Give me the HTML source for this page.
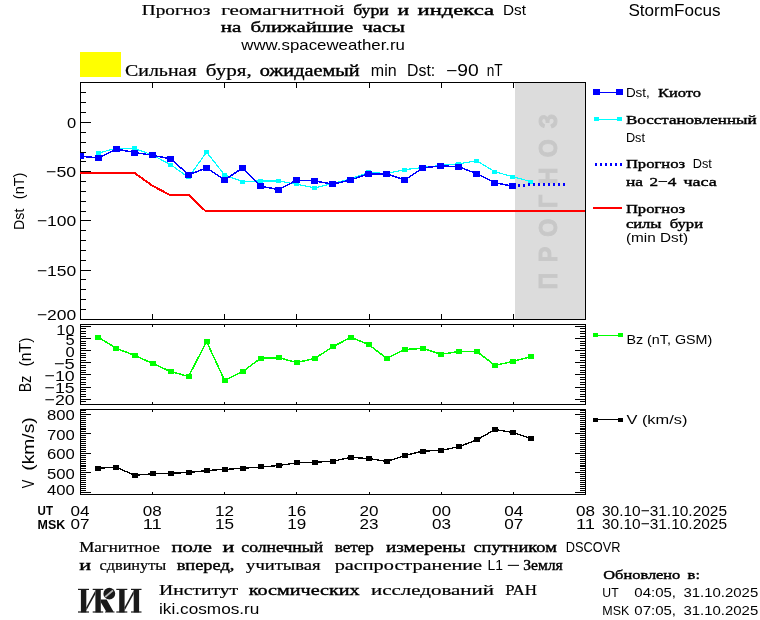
<!DOCTYPE html>
<html><head><meta charset="utf-8"><title>StormFocus</title>
<style>html,body{margin:0;padding:0;background:#fff;overflow:hidden}svg{display:block;position:absolute;left:0;top:0;will-change:transform}.s{font-family:"Liberation Sans",sans-serif;fill:#000}.c{font-family:"Liberation Serif",serif;fill:#000}.s.b{font-weight:bold}.c.b{stroke:#000;stroke-width:0.4px}.c.m{stroke:#000;stroke-width:0.22px}</style></head><body>
<svg width="760" height="620" viewBox="0 0 760 620">
<rect x="0" y="0" width="760" height="620" fill="#ffffff"/>
<text x="141.8" y="14.5" class="c m" font-size="15.2" textLength="68.5" lengthAdjust="spacingAndGlyphs" >Прогноз</text>
<text x="221.3" y="14.5" class="c m" font-size="15.2" textLength="123.3" lengthAdjust="spacingAndGlyphs" >геомагнитной</text>
<text x="353.2" y="14.5" class="c b" font-size="15.2" textLength="35.6" lengthAdjust="spacingAndGlyphs" >бури</text>
<text x="397.4" y="14.5" class="c b" font-size="15.2" textLength="11.6" lengthAdjust="spacingAndGlyphs" >и</text>
<text x="417.6" y="14.5" class="c b" font-size="15.2" textLength="76.6" lengthAdjust="spacingAndGlyphs" >индекса</text>
<text x="503.0" y="14.5" class="s" font-size="14.6" textLength="23.0" lengthAdjust="spacingAndGlyphs" >Dst</text>
<text x="220.8" y="32.3" class="c b" font-size="15.2" textLength="20.5" lengthAdjust="spacingAndGlyphs" >на</text>
<text x="250.5" y="32.3" class="c b" font-size="15.2" textLength="102.7" lengthAdjust="spacingAndGlyphs" >ближайшие</text>
<text x="362.4" y="32.3" class="c b" font-size="15.2" textLength="42.6" lengthAdjust="spacingAndGlyphs" >часы</text>
<text x="241.3" y="49.7" class="s" font-size="14.6" textLength="163.7" lengthAdjust="spacingAndGlyphs" >www.spaceweather.ru</text>
<text x="628.4" y="15.8" class="s" font-size="16.2" textLength="92.1" lengthAdjust="spacingAndGlyphs" >StormFocus</text>
<rect x="80" y="52" width="41" height="25" fill="#ffff00" shape-rendering="crispEdges"/>
<text x="125.0" y="76.0" class="c m" font-size="16.6" textLength="71.6" lengthAdjust="spacingAndGlyphs" >Сильная</text>
<text x="205.8" y="76.0" class="c m" font-size="16.6" textLength="46.0" lengthAdjust="spacingAndGlyphs" >буря,</text>
<text x="259.7" y="76.0" class="c b" font-size="16.6" textLength="100.0" lengthAdjust="spacingAndGlyphs" >ожидаемый</text>
<text x="370.8" y="76.4" class="s" font-size="16" textLength="25.8" lengthAdjust="spacingAndGlyphs" >min</text>
<text x="407.0" y="76.4" class="s" font-size="16" textLength="28.2" lengthAdjust="spacingAndGlyphs" >Dst:</text>
<text x="446.0" y="76.4" class="s" font-size="16" textLength="32.7" lengthAdjust="spacingAndGlyphs" >−90</text>
<text x="486.8" y="76.4" class="s" font-size="16" textLength="15.9" lengthAdjust="spacingAndGlyphs" >nT</text>
<g shape-rendering="crispEdges">
<rect x="515" y="83" width="70" height="236" fill="#dcdcdc"/>
</g>
<text transform="translate(557.2,289.5) rotate(-90) scale(0.88,1)" x="0" y="0" class="s b" font-size="26.5" textLength="199.5" lengthAdjust="spacing" style="fill:#c8c8c8;stroke:#c8c8c8;stroke-width:0.9px">ПРОГНОЗ</text>
<g shape-rendering="crispEdges" stroke="#000" stroke-width="1" fill="none">
<rect x="80.5" y="82.5" width="505" height="237"/>
<line x1="81" y1="309.5" x2="86" y2="309.5"/>
<line x1="81" y1="299.5" x2="86" y2="299.5"/>
<line x1="81" y1="289.5" x2="86" y2="289.5"/>
<line x1="81" y1="279.5" x2="86" y2="279.5"/>
<line x1="81" y1="270.5" x2="91" y2="270.5"/>
<line x1="81" y1="260.5" x2="86" y2="260.5"/>
<line x1="81" y1="250.5" x2="86" y2="250.5"/>
<line x1="81" y1="240.5" x2="86" y2="240.5"/>
<line x1="81" y1="230.5" x2="86" y2="230.5"/>
<line x1="81" y1="220.5" x2="91" y2="220.5"/>
<line x1="81" y1="211.5" x2="86" y2="211.5"/>
<line x1="81" y1="201.5" x2="86" y2="201.5"/>
<line x1="81" y1="191.5" x2="86" y2="191.5"/>
<line x1="81" y1="181.5" x2="86" y2="181.5"/>
<line x1="81" y1="171.5" x2="91" y2="171.5"/>
<line x1="81" y1="161.5" x2="86" y2="161.5"/>
<line x1="81" y1="152.5" x2="86" y2="152.5"/>
<line x1="81" y1="142.5" x2="86" y2="142.5"/>
<line x1="81" y1="132.5" x2="86" y2="132.5"/>
<line x1="81" y1="122.5" x2="91" y2="122.5"/>
<line x1="81" y1="112.5" x2="86" y2="112.5"/>
<line x1="81" y1="102.5" x2="86" y2="102.5"/>
<line x1="81" y1="92.5" x2="86" y2="92.5"/>
<line x1="152.5" y1="83" x2="152.5" y2="88"/>
<line x1="152.5" y1="314" x2="152.5" y2="319"/>
<line x1="224.5" y1="83" x2="224.5" y2="88"/>
<line x1="224.5" y1="314" x2="224.5" y2="319"/>
<line x1="296.5" y1="83" x2="296.5" y2="88"/>
<line x1="296.5" y1="314" x2="296.5" y2="319"/>
<line x1="369.5" y1="83" x2="369.5" y2="88"/>
<line x1="369.5" y1="314" x2="369.5" y2="319"/>
<line x1="441.5" y1="83" x2="441.5" y2="88"/>
<line x1="441.5" y1="314" x2="441.5" y2="319"/>
<line x1="513.5" y1="83" x2="513.5" y2="88"/>
<line x1="513.5" y1="314" x2="513.5" y2="319"/>
</g>
<defs><clipPath id="c1"><rect x="80" y="82" width="506" height="238"/></clipPath></defs>
<polyline points="80,173 134.6,173 151.8,185.3 169.7,195 188.7,195 205.5,211 585,211" fill="none" stroke="#ff0000" stroke-width="2" shape-rendering="crispEdges"/>
<g clip-path="url(#c1)">
<polyline points="98.5,153.2 116.5,148.0 134.5,148.5 152.5,155.0 170.6,164.7 188.6,177.4 206.6,152.1 224.6,175.0 242.6,181.6 260.6,180.9 278.7,180.9 296.7,184.3 314.7,187.9 332.7,183.5 350.8,178.8 368.8,172.4 386.8,173.5 404.8,169.6 422.8,167.5 440.8,165.4 458.9,163.7 476.9,160.9 494.9,171.7 512.9,176.8 531.0,181.6" fill="none" stroke="#00ffff" stroke-width="1.2" stroke-linejoin="round" shape-rendering="crispEdges"/>
<g fill="#00ffff" shape-rendering="crispEdges">
<rect x="96" y="151" width="5" height="4"/>
<rect x="114" y="146" width="5" height="4"/>
<rect x="132" y="146" width="5" height="4"/>
<rect x="150" y="153" width="5" height="4"/>
<rect x="168" y="163" width="5" height="4"/>
<rect x="186" y="175" width="5" height="4"/>
<rect x="204" y="150" width="5" height="4"/>
<rect x="222" y="173" width="5" height="4"/>
<rect x="240" y="180" width="5" height="4"/>
<rect x="258" y="179" width="5" height="4"/>
<rect x="276" y="179" width="5" height="4"/>
<rect x="294" y="182" width="5" height="4"/>
<rect x="312" y="186" width="5" height="4"/>
<rect x="330" y="182" width="5" height="4"/>
<rect x="348" y="177" width="5" height="4"/>
<rect x="366" y="170" width="5" height="4"/>
<rect x="384" y="172" width="5" height="4"/>
<rect x="402" y="168" width="5" height="4"/>
<rect x="420" y="166" width="5" height="4"/>
<rect x="438" y="163" width="5" height="4"/>
<rect x="456" y="162" width="5" height="4"/>
<rect x="474" y="159" width="5" height="4"/>
<rect x="492" y="170" width="5" height="4"/>
<rect x="510" y="175" width="5" height="4"/>
<rect x="528" y="180" width="5" height="4"/>
</g></g>
<g clip-path="url(#c1)">
<polyline points="80.5,156.3 98.5,157.8 116.5,149.0 134.5,152.5 152.5,155.3 170.6,158.8 188.6,174.8 206.6,167.9 224.6,179.9 242.6,167.9 260.6,186.2 278.7,189.6 296.7,180.1 314.7,180.9 332.7,184.1 350.8,179.9 368.8,173.8 386.8,173.8 404.8,180.1 422.8,167.9 440.8,165.8 458.9,166.8 476.9,173.8 494.9,182.6 512.9,186.4" fill="none" stroke="#0000ff" stroke-width="1.5" stroke-linejoin="round" shape-rendering="crispEdges"/>
<g fill="#0000ff" shape-rendering="crispEdges">
<rect x="77" y="153" width="7" height="6"/>
<rect x="95" y="155" width="7" height="6"/>
<rect x="113" y="146" width="7" height="6"/>
<rect x="131" y="150" width="7" height="6"/>
<rect x="149" y="152" width="7" height="6"/>
<rect x="167" y="156" width="7" height="6"/>
<rect x="185" y="172" width="7" height="6"/>
<rect x="203" y="165" width="7" height="6"/>
<rect x="221" y="177" width="7" height="6"/>
<rect x="239" y="165" width="7" height="6"/>
<rect x="257" y="183" width="7" height="6"/>
<rect x="275" y="187" width="7" height="6"/>
<rect x="293" y="177" width="7" height="6"/>
<rect x="311" y="178" width="7" height="6"/>
<rect x="329" y="181" width="7" height="6"/>
<rect x="347" y="177" width="7" height="6"/>
<rect x="365" y="171" width="7" height="6"/>
<rect x="383" y="171" width="7" height="6"/>
<rect x="401" y="177" width="7" height="6"/>
<rect x="419" y="165" width="7" height="6"/>
<rect x="437" y="163" width="7" height="6"/>
<rect x="455" y="164" width="7" height="6"/>
<rect x="473" y="171" width="7" height="6"/>
<rect x="491" y="180" width="7" height="6"/>
<rect x="509" y="183" width="7" height="6"/>
</g></g>
<polyline points="517.9,185.6 531.0,184.5 566,184.5" fill="none" stroke="#0000ff" stroke-width="3" stroke-dasharray="2 3" shape-rendering="crispEdges"/>
<text x="67.0" y="127.9" class="s" font-size="15.2" textLength="9.2" lengthAdjust="spacingAndGlyphs">0</text>
<text x="46.1" y="176.9" class="s" font-size="15.2" textLength="30.1" lengthAdjust="spacingAndGlyphs">−50</text>
<text x="36.9" y="226.1" class="s" font-size="15.2" textLength="39.4" lengthAdjust="spacingAndGlyphs">−100</text>
<text x="36.9" y="275.7" class="s" font-size="15.2" textLength="39.4" lengthAdjust="spacingAndGlyphs">−150</text>
<text x="36.9" y="320.1" class="s" font-size="15.2" textLength="39.4" lengthAdjust="spacingAndGlyphs">−200</text>
<text transform="translate(24,230) rotate(-90)" class="s" font-size="14.9" textLength="21.4" lengthAdjust="spacingAndGlyphs">Dst</text>
<text transform="translate(24,199.2) rotate(-90)" class="s" font-size="14.9" textLength="26.6" lengthAdjust="spacingAndGlyphs">(nT)</text>
<text transform="translate(31.2,392.2) rotate(-90)" class="s" font-size="16.6" textLength="16.6" lengthAdjust="spacingAndGlyphs">Bz</text>
<text transform="translate(31.2,366.6) rotate(-90)" class="s" font-size="16.6" textLength="29" lengthAdjust="spacingAndGlyphs">(nT)</text>
<text transform="translate(34,488.2) rotate(-90)" class="s" font-size="16.6" textLength="8.6" lengthAdjust="spacingAndGlyphs">V</text>
<text transform="translate(34,470.8) rotate(-90)" class="s" font-size="16.6" textLength="53.6" lengthAdjust="spacingAndGlyphs">(km/s)</text>
<g shape-rendering="crispEdges" stroke="#000" stroke-width="1" fill="none">
<rect x="80.5" y="324.5" width="505" height="80"/>
<line x1="81" y1="401.5" x2="86" y2="401.5"/>
<line x1="580" y1="401.5" x2="585" y2="401.5"/>
<line x1="81" y1="399.5" x2="91" y2="399.5"/>
<line x1="575" y1="399.5" x2="585" y2="399.5"/>
<line x1="81" y1="396.5" x2="86" y2="396.5"/>
<line x1="580" y1="396.5" x2="585" y2="396.5"/>
<line x1="81" y1="394.5" x2="86" y2="394.5"/>
<line x1="580" y1="394.5" x2="585" y2="394.5"/>
<line x1="81" y1="391.5" x2="86" y2="391.5"/>
<line x1="580" y1="391.5" x2="585" y2="391.5"/>
<line x1="81" y1="389.5" x2="86" y2="389.5"/>
<line x1="580" y1="389.5" x2="585" y2="389.5"/>
<line x1="81" y1="387.5" x2="91" y2="387.5"/>
<line x1="575" y1="387.5" x2="585" y2="387.5"/>
<line x1="81" y1="384.5" x2="86" y2="384.5"/>
<line x1="580" y1="384.5" x2="585" y2="384.5"/>
<line x1="81" y1="382.5" x2="86" y2="382.5"/>
<line x1="580" y1="382.5" x2="585" y2="382.5"/>
<line x1="81" y1="379.5" x2="86" y2="379.5"/>
<line x1="580" y1="379.5" x2="585" y2="379.5"/>
<line x1="81" y1="377.5" x2="86" y2="377.5"/>
<line x1="580" y1="377.5" x2="585" y2="377.5"/>
<line x1="81" y1="374.5" x2="91" y2="374.5"/>
<line x1="575" y1="374.5" x2="585" y2="374.5"/>
<line x1="81" y1="372.5" x2="86" y2="372.5"/>
<line x1="580" y1="372.5" x2="585" y2="372.5"/>
<line x1="81" y1="370.5" x2="86" y2="370.5"/>
<line x1="580" y1="370.5" x2="585" y2="370.5"/>
<line x1="81" y1="367.5" x2="86" y2="367.5"/>
<line x1="580" y1="367.5" x2="585" y2="367.5"/>
<line x1="81" y1="365.5" x2="86" y2="365.5"/>
<line x1="580" y1="365.5" x2="585" y2="365.5"/>
<line x1="81" y1="362.5" x2="91" y2="362.5"/>
<line x1="575" y1="362.5" x2="585" y2="362.5"/>
<line x1="81" y1="360.5" x2="86" y2="360.5"/>
<line x1="580" y1="360.5" x2="585" y2="360.5"/>
<line x1="81" y1="357.5" x2="86" y2="357.5"/>
<line x1="580" y1="357.5" x2="585" y2="357.5"/>
<line x1="81" y1="355.5" x2="86" y2="355.5"/>
<line x1="580" y1="355.5" x2="585" y2="355.5"/>
<line x1="81" y1="353.5" x2="86" y2="353.5"/>
<line x1="580" y1="353.5" x2="585" y2="353.5"/>
<line x1="81" y1="350.5" x2="91" y2="350.5"/>
<line x1="575" y1="350.5" x2="585" y2="350.5"/>
<line x1="81" y1="348.5" x2="86" y2="348.5"/>
<line x1="580" y1="348.5" x2="585" y2="348.5"/>
<line x1="81" y1="345.5" x2="86" y2="345.5"/>
<line x1="580" y1="345.5" x2="585" y2="345.5"/>
<line x1="81" y1="343.5" x2="86" y2="343.5"/>
<line x1="580" y1="343.5" x2="585" y2="343.5"/>
<line x1="81" y1="341.5" x2="86" y2="341.5"/>
<line x1="580" y1="341.5" x2="585" y2="341.5"/>
<line x1="81" y1="338.5" x2="91" y2="338.5"/>
<line x1="575" y1="338.5" x2="585" y2="338.5"/>
<line x1="81" y1="336.5" x2="86" y2="336.5"/>
<line x1="580" y1="336.5" x2="585" y2="336.5"/>
<line x1="81" y1="333.5" x2="86" y2="333.5"/>
<line x1="580" y1="333.5" x2="585" y2="333.5"/>
<line x1="81" y1="331.5" x2="86" y2="331.5"/>
<line x1="580" y1="331.5" x2="585" y2="331.5"/>
<line x1="81" y1="328.5" x2="86" y2="328.5"/>
<line x1="580" y1="328.5" x2="585" y2="328.5"/>
<line x1="81" y1="326.5" x2="91" y2="326.5"/>
<line x1="575" y1="326.5" x2="585" y2="326.5"/>
<line x1="152.5" y1="325" x2="152.5" y2="327"/>
<line x1="152.5" y1="402" x2="152.5" y2="404"/>
<line x1="224.5" y1="325" x2="224.5" y2="327"/>
<line x1="224.5" y1="402" x2="224.5" y2="404"/>
<line x1="296.5" y1="325" x2="296.5" y2="327"/>
<line x1="296.5" y1="402" x2="296.5" y2="404"/>
<line x1="369.5" y1="325" x2="369.5" y2="327"/>
<line x1="369.5" y1="402" x2="369.5" y2="404"/>
<line x1="441.5" y1="325" x2="441.5" y2="327"/>
<line x1="441.5" y1="402" x2="441.5" y2="404"/>
<line x1="513.5" y1="325" x2="513.5" y2="327"/>
<line x1="513.5" y1="402" x2="513.5" y2="404"/>
</g>
<g>
<polyline points="98.5,337.5 116.5,348.4 134.5,355.4 152.5,363.4 170.6,371.6 188.6,376.4 206.6,341.5 224.6,380.4 242.6,371.6 260.6,358.3 278.7,357.7 296.7,362.5 314.7,358.5 332.7,346.9 350.8,337.3 368.8,344.6 386.8,358.5 404.8,349.5 422.8,348.4 440.8,354.3 458.9,351.6 476.9,351.6 494.9,365.3 512.9,361.5 531.0,356.6" fill="none" stroke="#00ff00" stroke-width="1.5" stroke-linejoin="round" shape-rendering="crispEdges"/>
<g fill="#00ff00" shape-rendering="crispEdges">
<rect x="95" y="335" width="6" height="5"/>
<rect x="113" y="346" width="6" height="5"/>
<rect x="132" y="353" width="6" height="5"/>
<rect x="150" y="361" width="6" height="5"/>
<rect x="168" y="369" width="6" height="5"/>
<rect x="186" y="374" width="6" height="5"/>
<rect x="204" y="339" width="6" height="5"/>
<rect x="222" y="378" width="6" height="5"/>
<rect x="240" y="369" width="6" height="5"/>
<rect x="258" y="356" width="6" height="5"/>
<rect x="276" y="355" width="6" height="5"/>
<rect x="294" y="360" width="6" height="5"/>
<rect x="312" y="356" width="6" height="5"/>
<rect x="330" y="344" width="6" height="5"/>
<rect x="348" y="335" width="6" height="5"/>
<rect x="366" y="342" width="6" height="5"/>
<rect x="384" y="356" width="6" height="5"/>
<rect x="402" y="347" width="6" height="5"/>
<rect x="420" y="346" width="6" height="5"/>
<rect x="438" y="352" width="6" height="5"/>
<rect x="456" y="349" width="6" height="5"/>
<rect x="474" y="349" width="6" height="5"/>
<rect x="492" y="363" width="6" height="5"/>
<rect x="510" y="359" width="6" height="5"/>
<rect x="528" y="354" width="6" height="5"/>
</g></g>
<text x="56.2" y="334.7" class="s" font-size="15.2" textLength="18.5" lengthAdjust="spacingAndGlyphs">10</text>
<text x="65.5" y="344.7" class="s" font-size="15.2" textLength="9.2" lengthAdjust="spacingAndGlyphs">5</text>
<text x="65.5" y="356.8" class="s" font-size="15.2" textLength="9.2" lengthAdjust="spacingAndGlyphs">0</text>
<text x="53.9" y="368.9" class="s" font-size="15.2" textLength="20.9" lengthAdjust="spacingAndGlyphs">−5</text>
<text x="44.6" y="381.0" class="s" font-size="15.2" textLength="30.1" lengthAdjust="spacingAndGlyphs">−10</text>
<text x="44.6" y="393.1" class="s" font-size="15.2" textLength="30.1" lengthAdjust="spacingAndGlyphs">−15</text>
<text x="44.6" y="405.2" class="s" font-size="15.2" textLength="30.1" lengthAdjust="spacingAndGlyphs">−20</text>
<g shape-rendering="crispEdges" stroke="#000" stroke-width="1" fill="none">
<rect x="80.5" y="409.5" width="505" height="85"/>
<line x1="81" y1="492.5" x2="91" y2="492.5"/>
<line x1="575" y1="492.5" x2="585" y2="492.5"/>
<line x1="81" y1="490.5" x2="86" y2="490.5"/>
<line x1="580" y1="490.5" x2="585" y2="490.5"/>
<line x1="81" y1="488.5" x2="86" y2="488.5"/>
<line x1="580" y1="488.5" x2="585" y2="488.5"/>
<line x1="81" y1="486.5" x2="86" y2="486.5"/>
<line x1="580" y1="486.5" x2="585" y2="486.5"/>
<line x1="81" y1="484.5" x2="86" y2="484.5"/>
<line x1="580" y1="484.5" x2="585" y2="484.5"/>
<line x1="81" y1="482.5" x2="86" y2="482.5"/>
<line x1="580" y1="482.5" x2="585" y2="482.5"/>
<line x1="81" y1="480.5" x2="86" y2="480.5"/>
<line x1="580" y1="480.5" x2="585" y2="480.5"/>
<line x1="81" y1="478.5" x2="86" y2="478.5"/>
<line x1="580" y1="478.5" x2="585" y2="478.5"/>
<line x1="81" y1="476.5" x2="86" y2="476.5"/>
<line x1="580" y1="476.5" x2="585" y2="476.5"/>
<line x1="81" y1="474.5" x2="86" y2="474.5"/>
<line x1="580" y1="474.5" x2="585" y2="474.5"/>
<line x1="81" y1="472.5" x2="91" y2="472.5"/>
<line x1="575" y1="472.5" x2="585" y2="472.5"/>
<line x1="81" y1="470.5" x2="86" y2="470.5"/>
<line x1="580" y1="470.5" x2="585" y2="470.5"/>
<line x1="81" y1="468.5" x2="86" y2="468.5"/>
<line x1="580" y1="468.5" x2="585" y2="468.5"/>
<line x1="81" y1="466.5" x2="86" y2="466.5"/>
<line x1="580" y1="466.5" x2="585" y2="466.5"/>
<line x1="81" y1="465.5" x2="86" y2="465.5"/>
<line x1="580" y1="465.5" x2="585" y2="465.5"/>
<line x1="81" y1="463.5" x2="86" y2="463.5"/>
<line x1="580" y1="463.5" x2="585" y2="463.5"/>
<line x1="81" y1="461.5" x2="86" y2="461.5"/>
<line x1="580" y1="461.5" x2="585" y2="461.5"/>
<line x1="81" y1="459.5" x2="86" y2="459.5"/>
<line x1="580" y1="459.5" x2="585" y2="459.5"/>
<line x1="81" y1="457.5" x2="86" y2="457.5"/>
<line x1="580" y1="457.5" x2="585" y2="457.5"/>
<line x1="81" y1="455.5" x2="86" y2="455.5"/>
<line x1="580" y1="455.5" x2="585" y2="455.5"/>
<line x1="81" y1="453.5" x2="91" y2="453.5"/>
<line x1="575" y1="453.5" x2="585" y2="453.5"/>
<line x1="81" y1="451.5" x2="86" y2="451.5"/>
<line x1="580" y1="451.5" x2="585" y2="451.5"/>
<line x1="81" y1="449.5" x2="86" y2="449.5"/>
<line x1="580" y1="449.5" x2="585" y2="449.5"/>
<line x1="81" y1="447.5" x2="86" y2="447.5"/>
<line x1="580" y1="447.5" x2="585" y2="447.5"/>
<line x1="81" y1="445.5" x2="86" y2="445.5"/>
<line x1="580" y1="445.5" x2="585" y2="445.5"/>
<line x1="81" y1="443.5" x2="86" y2="443.5"/>
<line x1="580" y1="443.5" x2="585" y2="443.5"/>
<line x1="81" y1="441.5" x2="86" y2="441.5"/>
<line x1="580" y1="441.5" x2="585" y2="441.5"/>
<line x1="81" y1="439.5" x2="86" y2="439.5"/>
<line x1="580" y1="439.5" x2="585" y2="439.5"/>
<line x1="81" y1="437.5" x2="86" y2="437.5"/>
<line x1="580" y1="437.5" x2="585" y2="437.5"/>
<line x1="81" y1="435.5" x2="86" y2="435.5"/>
<line x1="580" y1="435.5" x2="585" y2="435.5"/>
<line x1="81" y1="433.5" x2="91" y2="433.5"/>
<line x1="575" y1="433.5" x2="585" y2="433.5"/>
<line x1="81" y1="431.5" x2="86" y2="431.5"/>
<line x1="580" y1="431.5" x2="585" y2="431.5"/>
<line x1="81" y1="429.5" x2="86" y2="429.5"/>
<line x1="580" y1="429.5" x2="585" y2="429.5"/>
<line x1="81" y1="428.5" x2="86" y2="428.5"/>
<line x1="580" y1="428.5" x2="585" y2="428.5"/>
<line x1="81" y1="426.5" x2="86" y2="426.5"/>
<line x1="580" y1="426.5" x2="585" y2="426.5"/>
<line x1="81" y1="424.5" x2="86" y2="424.5"/>
<line x1="580" y1="424.5" x2="585" y2="424.5"/>
<line x1="81" y1="422.5" x2="86" y2="422.5"/>
<line x1="580" y1="422.5" x2="585" y2="422.5"/>
<line x1="81" y1="420.5" x2="86" y2="420.5"/>
<line x1="580" y1="420.5" x2="585" y2="420.5"/>
<line x1="81" y1="418.5" x2="86" y2="418.5"/>
<line x1="580" y1="418.5" x2="585" y2="418.5"/>
<line x1="81" y1="416.5" x2="86" y2="416.5"/>
<line x1="580" y1="416.5" x2="585" y2="416.5"/>
<line x1="81" y1="414.5" x2="91" y2="414.5"/>
<line x1="575" y1="414.5" x2="585" y2="414.5"/>
<line x1="81" y1="412.5" x2="86" y2="412.5"/>
<line x1="580" y1="412.5" x2="585" y2="412.5"/>
<line x1="81" y1="410.5" x2="86" y2="410.5"/>
<line x1="580" y1="410.5" x2="585" y2="410.5"/>
<line x1="152.5" y1="410" x2="152.5" y2="412"/>
<line x1="152.5" y1="492" x2="152.5" y2="494"/>
<line x1="224.5" y1="410" x2="224.5" y2="412"/>
<line x1="224.5" y1="492" x2="224.5" y2="494"/>
<line x1="296.5" y1="410" x2="296.5" y2="412"/>
<line x1="296.5" y1="492" x2="296.5" y2="494"/>
<line x1="369.5" y1="410" x2="369.5" y2="412"/>
<line x1="369.5" y1="492" x2="369.5" y2="494"/>
<line x1="441.5" y1="410" x2="441.5" y2="412"/>
<line x1="441.5" y1="492" x2="441.5" y2="494"/>
<line x1="513.5" y1="410" x2="513.5" y2="412"/>
<line x1="513.5" y1="492" x2="513.5" y2="494"/>
</g>
<g>
<polyline points="98.5,468.2 116.5,467.3 134.5,475.3 152.5,473.8 170.6,473.2 188.6,472.6 206.6,470.5 224.6,469.4 242.6,468.4 260.6,466.9 278.7,465.6 296.7,462.7 314.7,462.3 332.7,461.2 350.8,457.4 368.8,458.5 386.8,461.4 404.8,455.5 422.8,451.1 440.8,450.5 458.9,446.7 476.9,439.9 494.9,429.6 512.9,432.4 531.0,438.5" fill="none" stroke="#000000" stroke-width="1.3" stroke-linejoin="round" shape-rendering="crispEdges"/>
<g fill="#000000" shape-rendering="crispEdges">
<rect x="95" y="466" width="6" height="5"/>
<rect x="113" y="465" width="6" height="5"/>
<rect x="132" y="473" width="6" height="5"/>
<rect x="150" y="471" width="6" height="5"/>
<rect x="168" y="471" width="6" height="5"/>
<rect x="186" y="470" width="6" height="5"/>
<rect x="204" y="468" width="6" height="5"/>
<rect x="222" y="467" width="6" height="5"/>
<rect x="240" y="466" width="6" height="5"/>
<rect x="258" y="464" width="6" height="5"/>
<rect x="276" y="463" width="6" height="5"/>
<rect x="294" y="460" width="6" height="5"/>
<rect x="312" y="460" width="6" height="5"/>
<rect x="330" y="459" width="6" height="5"/>
<rect x="348" y="455" width="6" height="5"/>
<rect x="366" y="456" width="6" height="5"/>
<rect x="384" y="459" width="6" height="5"/>
<rect x="402" y="453" width="6" height="5"/>
<rect x="420" y="449" width="6" height="5"/>
<rect x="438" y="448" width="6" height="5"/>
<rect x="456" y="444" width="6" height="5"/>
<rect x="474" y="437" width="6" height="5"/>
<rect x="492" y="427" width="6" height="5"/>
<rect x="510" y="430" width="6" height="5"/>
<rect x="528" y="436" width="6" height="5"/>
</g></g>
<text x="47.0" y="419.9" class="s" font-size="15.2" textLength="27.8" lengthAdjust="spacingAndGlyphs">800</text>
<text x="47.0" y="439.8" class="s" font-size="15.2" textLength="27.8" lengthAdjust="spacingAndGlyphs">700</text>
<text x="47.0" y="458.9" class="s" font-size="15.2" textLength="27.8" lengthAdjust="spacingAndGlyphs">600</text>
<text x="47.0" y="478.5" class="s" font-size="15.2" textLength="27.8" lengthAdjust="spacingAndGlyphs">500</text>
<text x="47.0" y="494.8" class="s" font-size="15.2" textLength="27.8" lengthAdjust="spacingAndGlyphs">400</text>
<line x1="596" y1="92" x2="620" y2="92" stroke="#0000ff" stroke-width="1" shape-rendering="crispEdges"/>
<rect x="593" y="89" width="7" height="6" fill="#0000ff" shape-rendering="crispEdges"/>
<rect x="616" y="89" width="7" height="6" fill="#0000ff" shape-rendering="crispEdges"/>
<text x="625.9" y="96.6" class="s" font-size="13.2" textLength="23.9" lengthAdjust="spacingAndGlyphs" >Dst,</text>
<text x="658.1" y="96.6" class="c b" font-size="13.5" textLength="42.8" lengthAdjust="spacingAndGlyphs" >Киото</text>
<line x1="596" y1="119.5" x2="620" y2="119.5" stroke="#00ffff" stroke-width="1" shape-rendering="crispEdges"/>
<rect x="594" y="117" width="5" height="4" fill="#00ffff" shape-rendering="crispEdges"/>
<rect x="617" y="117" width="5" height="4" fill="#00ffff" shape-rendering="crispEdges"/>
<text x="625.9" y="123.6" class="c b" font-size="13.5" textLength="130.7" lengthAdjust="spacingAndGlyphs" >Восстановленный</text>
<text x="625.9" y="141.9" class="s" font-size="13.2" textLength="19.1" lengthAdjust="spacingAndGlyphs" >Dst</text>
<line x1="595" y1="164.5" x2="622" y2="164.5" stroke="#0000ff" stroke-width="3" stroke-dasharray="2 3" shape-rendering="crispEdges"/>
<text x="625.9" y="168.3" class="c b" font-size="13.5" textLength="59.1" lengthAdjust="spacingAndGlyphs" >Прогноз</text>
<text x="692.7" y="168.3" class="s" font-size="13.2" textLength="19.1" lengthAdjust="spacingAndGlyphs" >Dst</text>
<text x="625.9" y="186.1" class="c b" font-size="13.5" textLength="17.1" lengthAdjust="spacingAndGlyphs" >на</text>
<text x="649.5" y="186.1" class="c b" font-size="13.5" textLength="26.9" lengthAdjust="spacingAndGlyphs" >2−4</text>
<text x="683.5" y="186.1" class="c b" font-size="13.5" textLength="33.4" lengthAdjust="spacingAndGlyphs" >часа</text>
<line x1="593" y1="208" x2="622" y2="208" stroke="#ff0000" stroke-width="2" shape-rendering="crispEdges"/>
<text x="625.9" y="212.5" class="c b" font-size="13.5" textLength="59.1" lengthAdjust="spacingAndGlyphs" >Прогноз</text>
<text x="625.9" y="227.7" class="c b" font-size="13.5" textLength="35.6" lengthAdjust="spacingAndGlyphs" >силы</text>
<text x="669.7" y="227.7" class="c b" font-size="13.5" textLength="33.4" lengthAdjust="spacingAndGlyphs" >бури</text>
<text x="625.9" y="241.8" class="s" font-size="13.2" textLength="62.1" lengthAdjust="spacingAndGlyphs" >(min Dst)</text>
<line x1="596" y1="335.5" x2="620" y2="335.5" stroke="#00ff00" stroke-width="1" shape-rendering="crispEdges"/>
<rect x="593" y="333" width="5" height="4" fill="#00ff00" shape-rendering="crispEdges"/>
<rect x="618" y="333" width="5" height="4" fill="#00ff00" shape-rendering="crispEdges"/>
<text x="626.4" y="343.7" class="s" font-size="13.2" textLength="85.9" lengthAdjust="spacingAndGlyphs" >Bz (nT, GSM)</text>
<line x1="596" y1="419.5" x2="620" y2="419.5" stroke="#000000" stroke-width="1" shape-rendering="crispEdges"/>
<rect x="593" y="418" width="5" height="4" fill="#000000" shape-rendering="crispEdges"/>
<rect x="618" y="418" width="5" height="4" fill="#000000" shape-rendering="crispEdges"/>
<text x="626.4" y="424.0" class="s" font-size="13.2" textLength="61.1" lengthAdjust="spacingAndGlyphs" >V (km/s)</text>
<text x="37.6" y="515.3" class="s b" font-size="12.8" textLength="15.4" lengthAdjust="spacingAndGlyphs" >UT</text>
<text x="37.6" y="529.0" class="s b" font-size="12.8" textLength="27.6" lengthAdjust="spacingAndGlyphs" >MSK</text>
<text x="70.5" y="515.8" class="s" font-size="15.2" textLength="19.0" lengthAdjust="spacingAndGlyphs" >04</text>
<text x="70.5" y="529.2" class="s" font-size="15.2" textLength="19.0" lengthAdjust="spacingAndGlyphs" >07</text>
<text x="142.8" y="515.8" class="s" font-size="15.2" textLength="19.0" lengthAdjust="spacingAndGlyphs" >08</text>
<text x="142.8" y="529.2" class="s" font-size="15.2" textLength="19.0" lengthAdjust="spacingAndGlyphs" >11</text>
<text x="215.1" y="515.8" class="s" font-size="15.2" textLength="19.0" lengthAdjust="spacingAndGlyphs" >12</text>
<text x="215.1" y="529.2" class="s" font-size="15.2" textLength="19.0" lengthAdjust="spacingAndGlyphs" >15</text>
<text x="287.3" y="515.8" class="s" font-size="15.2" textLength="19.0" lengthAdjust="spacingAndGlyphs" >16</text>
<text x="287.3" y="529.2" class="s" font-size="15.2" textLength="19.0" lengthAdjust="spacingAndGlyphs" >19</text>
<text x="359.6" y="515.8" class="s" font-size="15.2" textLength="19.0" lengthAdjust="spacingAndGlyphs" >20</text>
<text x="359.6" y="529.2" class="s" font-size="15.2" textLength="19.0" lengthAdjust="spacingAndGlyphs" >23</text>
<text x="431.9" y="515.8" class="s" font-size="15.2" textLength="19.0" lengthAdjust="spacingAndGlyphs" >00</text>
<text x="431.9" y="529.2" class="s" font-size="15.2" textLength="19.0" lengthAdjust="spacingAndGlyphs" >03</text>
<text x="504.2" y="515.8" class="s" font-size="15.2" textLength="19.0" lengthAdjust="spacingAndGlyphs" >04</text>
<text x="504.2" y="529.2" class="s" font-size="15.2" textLength="19.0" lengthAdjust="spacingAndGlyphs" >07</text>
<text x="575.9" y="515.8" class="s" font-size="15.2" textLength="19.0" lengthAdjust="spacingAndGlyphs" >08</text>
<text x="575.9" y="529.2" class="s" font-size="15.2" textLength="19.0" lengthAdjust="spacingAndGlyphs" >11</text>
<text x="602.0" y="515.8" class="s" font-size="15.2" textLength="125.0" lengthAdjust="spacingAndGlyphs" >30.10−31.10.2025</text>
<text x="602.0" y="529.2" class="s" font-size="15.2" textLength="125.0" lengthAdjust="spacingAndGlyphs" >30.10−31.10.2025</text>
<text x="79.2" y="552.2" class="c m" font-size="15.2" textLength="80.5" lengthAdjust="spacingAndGlyphs" >Магнитное</text>
<text x="171.5" y="552.2" class="c b" font-size="15.2" textLength="40.5" lengthAdjust="spacingAndGlyphs" >поле</text>
<text x="222.6" y="552.2" class="c b" font-size="15.2" textLength="11.9" lengthAdjust="spacingAndGlyphs" >и</text>
<text x="241.3" y="552.2" class="c b" font-size="15.2" textLength="81.8" lengthAdjust="spacingAndGlyphs" >солнечный</text>
<text x="334.7" y="552.2" class="c b" font-size="15.2" textLength="39.2" lengthAdjust="spacingAndGlyphs" >ветер</text>
<text x="386.0" y="552.2" class="c b" font-size="15.2" textLength="79.3" lengthAdjust="spacingAndGlyphs" >измерены</text>
<text x="473.4" y="552.2" class="c b" font-size="15.2" textLength="83.4" lengthAdjust="spacingAndGlyphs" >спутником</text>
<text x="565.8" y="552.2" class="s" font-size="14.6" textLength="54.7" lengthAdjust="spacingAndGlyphs" >DSCOVR</text>
<text x="79.2" y="570.0" class="c b" font-size="15.2" textLength="11.8" lengthAdjust="spacingAndGlyphs" >и</text>
<text x="99.5" y="570.0" class="c m" font-size="15.2" textLength="66.7" lengthAdjust="spacingAndGlyphs" >сдвинуты</text>
<text x="176.7" y="570.0" class="c b" font-size="15.2" textLength="57.7" lengthAdjust="spacingAndGlyphs" >вперед,</text>
<text x="246.1" y="570.0" class="c m" font-size="15.2" textLength="74.5" lengthAdjust="spacingAndGlyphs" >учитывая</text>
<text x="334.7" y="570.0" class="c m" font-size="15.2" textLength="147.4" lengthAdjust="spacingAndGlyphs" >распространение</text>
<text x="487.5" y="570.0" class="s" font-size="14.6" textLength="15.5" lengthAdjust="spacingAndGlyphs" >L1</text>
<text x="506.5" y="570.0" class="s" font-size="14.6" textLength="13.5" lengthAdjust="spacingAndGlyphs" >−</text>
<text x="523.2" y="570.0" class="c b" font-size="15.2" textLength="39.6" lengthAdjust="spacingAndGlyphs" >Земля</text>
<text x="159.0" y="595.0" class="c m" font-size="15.2" textLength="79.2" lengthAdjust="spacingAndGlyphs" >Институт</text>
<text x="248.7" y="595.0" class="c b" font-size="15.2" textLength="111.0" lengthAdjust="spacingAndGlyphs" >космических</text>
<text x="371.0" y="595.0" class="c m" font-size="15.2" textLength="123.0" lengthAdjust="spacingAndGlyphs" >исследований</text>
<text x="505.3" y="595.0" class="c m" font-size="15.2" textLength="31.5" lengthAdjust="spacingAndGlyphs" >РАН</text>
<text x="159.0" y="613.8" class="s" font-size="14.6" textLength="100.4" lengthAdjust="spacingAndGlyphs" >iki.cosmos.ru</text>
<text x="603.3" y="578.6" class="c b" font-size="13.5" textLength="77.0" lengthAdjust="spacingAndGlyphs" >Обновлено</text>
<text x="687.6" y="578.6" class="c b" font-size="13.5" textLength="12.4" lengthAdjust="spacingAndGlyphs" >в:</text>
<text x="602.3" y="596.8" class="s" font-size="13.5" textLength="16.3" lengthAdjust="spacingAndGlyphs" >UT</text>
<text x="634.3" y="596.8" class="s" font-size="13.5" textLength="41.7" lengthAdjust="spacingAndGlyphs" >04:05,</text>
<text x="683.5" y="596.8" class="s" font-size="13.5" textLength="74.7" lengthAdjust="spacingAndGlyphs" >31.10.2025</text>
<text x="602.3" y="614.6" class="s" font-size="13.5" textLength="27.0" lengthAdjust="spacingAndGlyphs" >MSK</text>
<text x="634.3" y="614.6" class="s" font-size="13.5" textLength="41.7" lengthAdjust="spacingAndGlyphs" >07:05,</text>
<text x="683.5" y="614.6" class="s" font-size="13.5" textLength="74.7" lengthAdjust="spacingAndGlyphs" >31.10.2025</text>
<g fill="#1a1a1a">
<g transform="translate(0,0)">
<rect x="80.9" y="589" width="5.4" height="23.4"/>
<rect x="95.4" y="589" width="5.4" height="23.4"/>
<rect x="78" y="588.8" width="11" height="1.2"/>
<rect x="92.7" y="588.8" width="10.5" height="1.2"/>
<rect x="78" y="611.4" width="11" height="1.2"/>
<rect x="92.7" y="611.4" width="10.5" height="1.2"/>
<polygon points="86.3,607.2 95.4,590.6 95.4,594 86.3,610.6"/>
</g>
<g transform="translate(38.3,0)">
<rect x="80.9" y="589" width="5.4" height="23.4"/>
<rect x="95.4" y="589" width="5.4" height="23.4"/>
<rect x="78" y="588.8" width="11" height="1.2"/>
<rect x="92.7" y="588.8" width="10.5" height="1.2"/>
<rect x="78" y="611.4" width="11" height="1.2"/>
<rect x="92.7" y="611.4" width="10.5" height="1.2"/>
<polygon points="86.3,607.2 95.4,590.6 95.4,594 86.3,610.6"/>
</g>
<circle cx="109.3" cy="593.7" r="5.9"/>
<polygon points="100.8,599.6 106.6,599.6 113.4,611.4 114.5,611.4 114.5,612.6 105,612.6 105,611.4 106.2,611.4 100.8,602.2"/>
</g>
<line x1="105.2" y1="597" x2="113" y2="590.4" stroke="#b4b4b4" stroke-width="1.8"/>
</svg></body></html>
